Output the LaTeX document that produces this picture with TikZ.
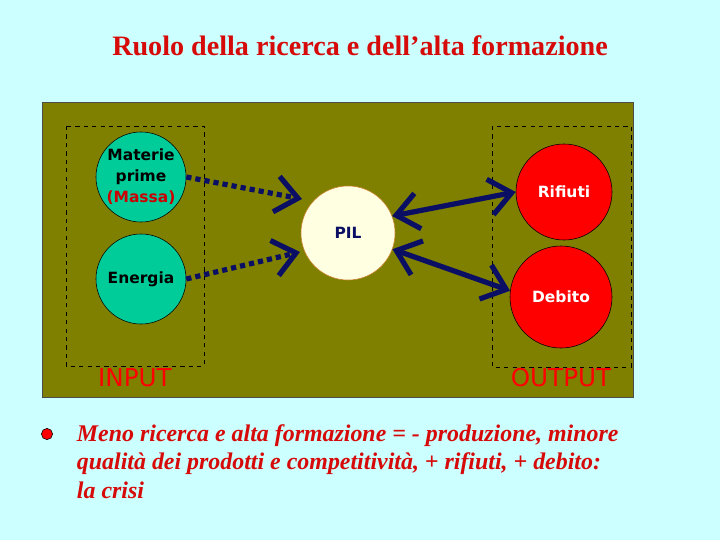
\documentclass[tikz,border=0pt]{standalone}
\usepackage{fontspec}
\setmainfont{Liberation Serif}
\newfontfamily\comicfont{DejaVu Sans}
\usetikzlibrary{arrows.meta,positioning}
\definecolor{bgcyan}{RGB}{204,255,255}
\definecolor{olivebg}{RGB}{128,128,0}
\definecolor{tealball}{RGB}{0,204,153}
\definecolor{creamball}{RGB}{255,255,225}
\definecolor{navyarrow}{RGB}{10,15,100}
\definecolor{titlered}{RGB}{215,10,10}
\tikzstyle{ball} = [circle, draw=black, thin, inner sep=0pt, align=center, font=\comicfont\bfseries\fontsize{11}{15}\selectfont]
\tikzstyle{inball} = [ball, fill=tealball, minimum size=2.25cm]
\tikzstyle{outball} = [ball, fill=red, text=white]
\tikzstyle{grp} = [draw=black, dashed, thin]
\tikzstyle{grplabel} = [text=red, font=\comicfont\fontsize{17.5}{20}\selectfont]
\tikzstyle{flow} = [line width=1.3mm, navyarrow, dash pattern=on 1.3mm off 1mm, -{Straight Barb[length=5.5mm,width=9mm]}]
\tikzstyle{link} = [line width=1.3mm, navyarrow, {Straight Barb[length=5.5mm,width=9mm]}-{Straight Barb[length=5.5mm,width=9mm]}]

\begin{document}
\begin{tikzpicture}[x=0.025cm, y=-0.025cm]
            \fill[bgcyan] (0,0) rectangle (720,540);
            \useasboundingbox (0,0) rectangle (720,540);
            \node[text=titlered, font=\bfseries\fontsize{20}{22}\selectfont] (title) at (360,46) {Ruolo della ricerca e dell’alta formazione};
            \draw[fill=olivebg, draw=black!70] (42,102) rectangle (633,397);
            \draw[grp] (66,126) rectangle (204,366);
            \draw[grp] (492,126) rectangle (631,367);

            \node[inball] (mat) at (141,177) {Materie\\prime\\\textcolor{red!80!black}{(Massa)}};
            \node[inball] (ene) at (141,279) {Energia};
            \node[ball, fill=creamball, draw=brown!80!orange, text=navyarrow, minimum size=2.35cm] (pil) at (348,233) {PIL};
            \node[outball, minimum size=2.4cm] (rif) at (564,192) {Rifiuti};
            \node[outball, minimum size=2.55cm] (deb) at (561,297) {Debito};

            \node[grplabel] (in) at (135,378) {INPUT};
            \node[grplabel] (out) at (561,378) {OUTPUT};

            \coordinate (pilA) at (302,199);
            \coordinate (pilB) at (300,252);
            \draw[flow] (mat.east) -- (pilA);
            \draw[flow] (ene.east) -- (pilB);
            \draw[link] (pil.21) -- (rif.west);
            \draw[link] (pil.-20) -- (deb.173);

            % conclusione
            \node[circle, fill=red, draw=black, inner sep=0pt, minimum size=0.28cm] (dot) at (47,434) {};
            \node[anchor=north west, align=left, text=titlered, font=\bfseries\itshape\fontsize{17}{20}\selectfont] (crisi) at (72,420) {Meno ricerca e alta formazione = - produzione, minore\\qualità dei prodotti e competitività, + rifiuti, + debito:\\la crisi};
\end{tikzpicture}
\end{document}
